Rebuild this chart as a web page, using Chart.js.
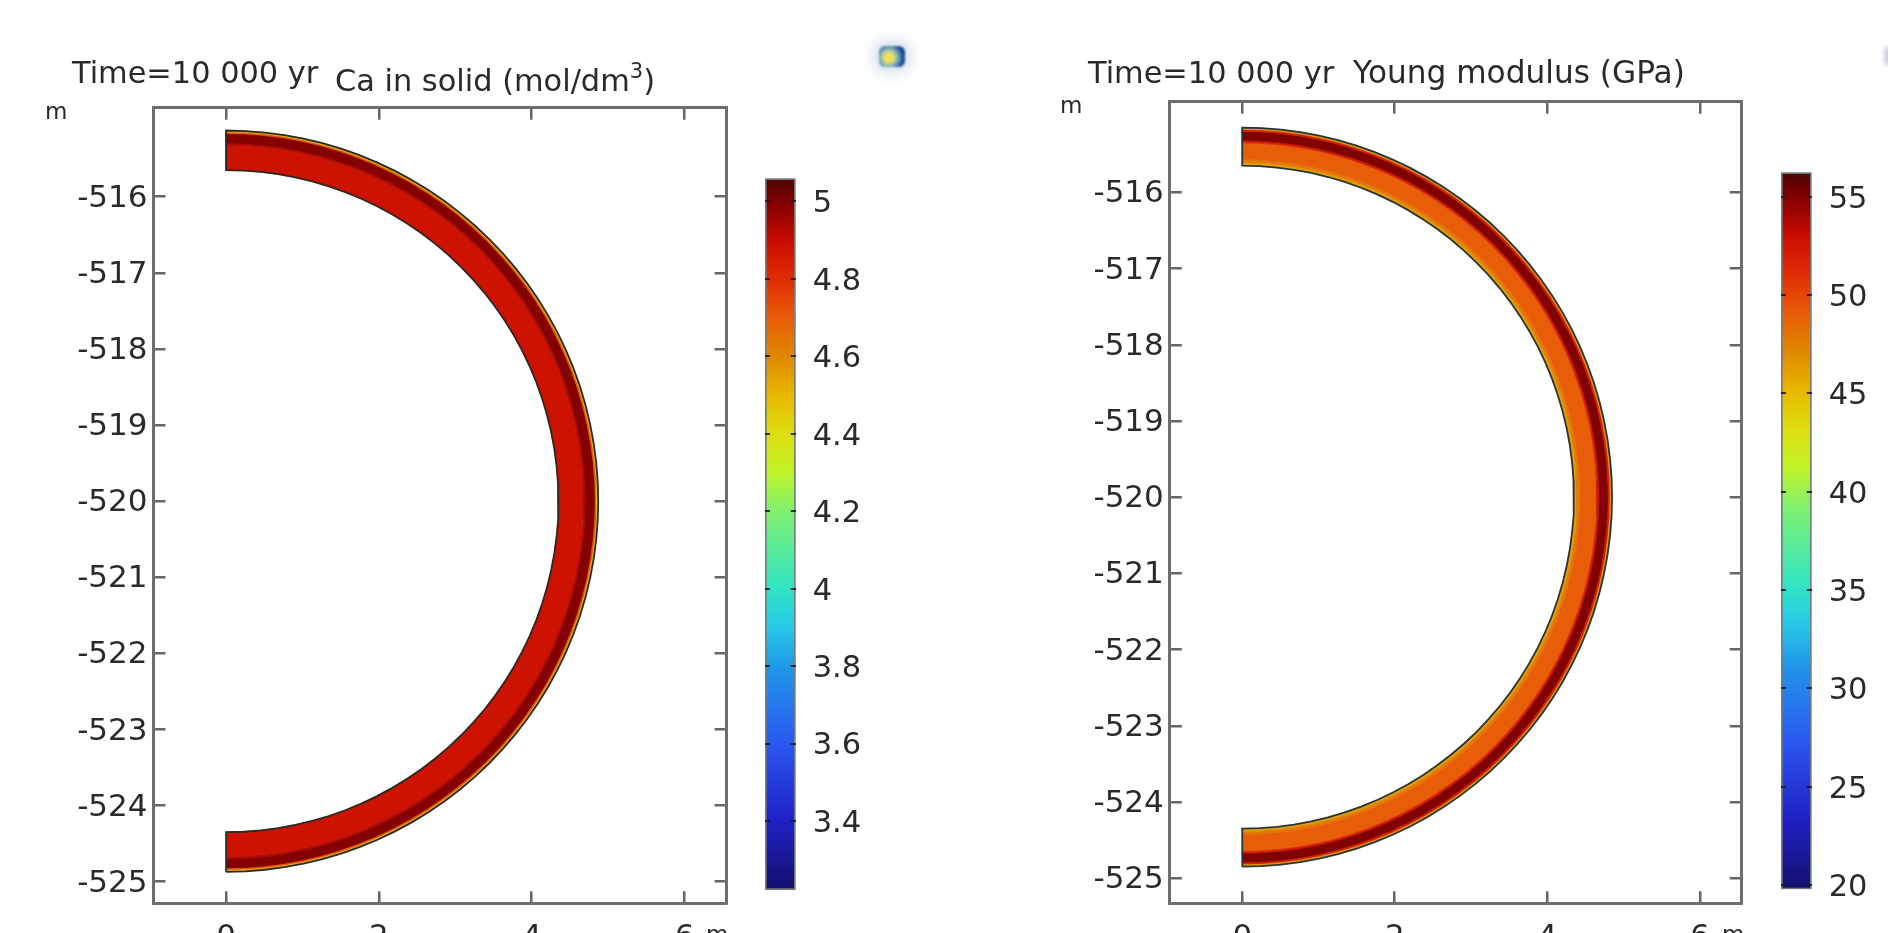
<!DOCTYPE html>
<html>
<head>
<meta charset="utf-8">
<script src="https://cdn.jsdelivr.net/npm/chart.js@4/dist/chart.umd.js"></script>
<style>
html,body{margin:0;padding:0;background:#fff;width:1888px;height:933px;overflow:hidden}
#page{position:relative;width:1888px;height:933px;overflow:hidden;filter:blur(0.7px)}
canvas{position:absolute;top:0}
.t{position:absolute;font-family:'DejaVu Sans',sans-serif;font-size:30.4px;color:#2a2a2a;white-space:nowrap;line-height:35px}
.u{position:absolute;font-family:'DejaVu Sans',sans-serif;font-size:23px;color:#2a2a2a;line-height:27px}
.t sup{font-size:21px;line-height:0;position:relative;top:-2px}
#icon1{position:absolute;left:879px;top:46px;width:26px;height:21px;border-radius:6px;background:radial-gradient(circle at 38% 55%,#f0e060 0 22%,#7fb0c0 45%,#1c4f96 70%,#17386f);box-shadow:0 0 12px 7px rgba(170,190,215,.4);filter:blur(1.2px)}
#icon2{position:absolute;left:1884px;top:46px;width:10px;height:20px;border-radius:5px;background:#c9d0da;filter:blur(2px)}
</style>
</head>
<body>
<div id="page">
<canvas id="plotCa" style="left:0" width="732" height="933"></canvas>
<canvas id="barCa" style="left:760px" width="130" height="933"></canvas>
<canvas id="plotE" style="left:1016px" width="731" height="933"></canvas>
<canvas id="barE" style="left:1776px" width="112" height="933"></canvas>
<div class="t" style="left:72px;top:55px">Time=10 000 yr</div>
<div class="t" style="left:335px;top:63px">Ca in solid (mol/dm<sup>3</sup>)</div>
<div class="t" style="left:1088px;top:55px">Time=10 000 yr</div>
<div class="t" style="left:1353px;top:55px;font-size:31.2px">Young modulus (GPa)</div>
<div class="u" style="left:45px;top:98px">m</div>
<div class="u" style="left:1060px;top:92px">m</div>
<div class="u" style="left:706px;top:921px">m</div>
<div class="u" style="left:1722px;top:921px">m</div>
<div id="icon1"></div>
<div id="icon2"></div>
</div>
<script>
// Axis ticks
const xTicks = [0, 2, 4, 6];
const yTicks = [-516, -517, -518, -519, -520, -521, -522, -523, -524, -525];
const caBarTicks = [5, 4.8, 4.6, 4.4, 4.2, 4, 3.8, 3.6, 3.4];
const youngBarTicks = [55, 50, 45, 40, 35, 30, 25, 20];

// Colour table: position along the range, colour
const tablePos = [0, .097, .206, .315, .369, .424, .532, .587, .641, .695, .75, .804, .859, .913, .968, 1];
const tableCol = ['#12106e','#2020c4','#2a58ee','#2098e8','#28c8e8','#30e4c4','#80f070','#c0f428','#dede10','#e8b800','#e08800','#e85c08','#e02c05','#c80c00','#7e0000','#4a0505'];

// Colour ranges of the two bars
const caRange = [3.222, 5.059];
const youngRange = [19.78, 56.24];

// Ring section: centre depth and sampled angles (degrees)
const ringCentre = -520;
const ringAngles = [-90,-87,-84,-81,-78,-75,-72,-69,-66,-63,-60,-57,-54,-51,-48,-45,-42,-39,-36,-33,-30,-27,-24,-21,-18,-15,-12,-9,-6,-3,0,3,6,9,12,15,18,21,24,27,30,33,36,39,42,45,48,51,54,57,60,63,66,69,72,75,78,81,84,87,90];

// Ca in solid: radial band edges (m, outer to inner) and value in each band
const caEdges = [4.87, 4.85, 4.83, 4.70, 4.67, 4.35];
const caValues = [4.5, 4.72, 4.99, 4.92, 4.88];

// Young modulus: radial band edges (m, outer to inner) and value in each band
const youngEdges = [4.85, 4.825, 4.80, 4.68, 4.65, 4.43, 4.39, 4.35];
const youngValues = [46.5, 52, 55, 52, 49, 47.8, 46.2];

function hex(c){return [1,3,5].map(i=>parseInt(c.slice(i,i+2),16));}
function colourAt(v, range){
  const f = Math.min(1, Math.max(0, (v-range[0])/(range[1]-range[0])));
  let i = 0;
  while (i < tablePos.length-2 && f > tablePos[i+1]) i++;
  const t = (f-tablePos[i])/(tablePos[i+1]-tablePos[i]);
  const a = hex(tableCol[i]), b = hex(tableCol[i+1]);
  return 'rgb('+a.map((k,j)=>Math.round(k+(b[j]-k)*t)).join(',')+')';
}
function arc(r, rev){
  const list = rev ? ringAngles.slice().reverse() : ringAngles;
  return list.map(d=>({x:r*Math.cos(d*Math.PI/180), y:ringCentre+r*Math.sin(d*Math.PI/180)}));
}
function ringDatasets(edges, values, range, edgeCol){
  const out = [{
    data: arc(edges[0]).concat(arc(edges[edges.length-1], true)).concat([arc(edges[0])[0]]),
    showLine:true, pointRadius:0, borderColor:edgeCol, borderWidth:1.8, fill:false, tension:0
  }];
  values.forEach((v,i)=>{
    const c = colourAt(v, range);
    out.push({
      data: arc(edges[i]).concat(arc(edges[i+1], true)),
      showLine:true, pointRadius:0, borderColor:c, backgroundColor:c, borderWidth:0.6, fill:'shape', tension:0
    });
  });
  return out;
}
function listTicks(list){
  return scale => { scale.ticks = list.map(value=>({value})); };
}
const font = {family:"'DejaVu Sans', sans-serif", size:31};
const barFont = {family:"'DejaVu Sans', sans-serif", size:30.5};
const frame = {display:true, color:'#6e6e6e', width:3};
function sideGrid(){
  return {color:'#666', lineWidth:2.5, drawOnChartArea:false, drawTicks:true, tickLength:-12};
}
function noPad(s){ s.paddingTop=0; s.paddingBottom=0; s.paddingLeft=0; s.paddingRight=0; }
function plot(id, datasets, xr, yr, geo){
  new Chart(document.getElementById(id), {
    type:'scatter',
    data:{datasets},
    options:{
      responsive:false, animation:false, devicePixelRatio:1,
      layout:{padding:{top:geo.top, right:geo.right, left:0, bottom:0}},
      plugins:{legend:{display:false}, tooltip:{enabled:false}},
      scales:{
        x:{type:'linear', position:'bottom', min:xr[0], max:xr[1], border:frame, grid:sideGrid(),
           afterBuildTicks:listTicks(xTicks),
           afterFit:s=>{s.height=geo.bottom; noPad(s);},
           ticks:{color:'#2a2a2a', font, padding:28, maxRotation:0, autoSkip:false, callback:v=>String(v)}},
        x2:{type:'linear', axis:'x', position:'top', min:xr[0], max:xr[1], border:frame, grid:sideGrid(),
           afterBuildTicks:listTicks(xTicks),
           afterFit:s=>{s.height=0; noPad(s);},
           ticks:{display:false}},
        y:{type:'linear', position:'left', min:yr[0], max:yr[1], border:frame, grid:sideGrid(),
           afterBuildTicks:listTicks(yTicks),
           afterFit:s=>{s.width=geo.left; noPad(s);},
           ticks:{color:'#2a2a2a', font, padding:18, autoSkip:false, labelOffset:2, callback:v=>String(v)}},
        y2:{type:'linear', axis:'y', position:'right', min:yr[0], max:yr[1], border:frame, grid:sideGrid(),
           afterBuildTicks:listTicks(yTicks),
           afterFit:s=>{s.width=0; noPad(s);},
           ticks:{display:false}}
      }
    }
  });
}
function colourBar(id, range, ticks, geo){
  new Chart(document.getElementById(id), {
    type:'bar',
    data:{labels:[''], datasets:[{
      data:[range],
      barPercentage:1, categoryPercentage:1,
      borderColor:'rgba(70,80,80,.75)', borderWidth:2, borderSkipped:false,
      backgroundColor:c=>{
        const a = c.chart.chartArea;
        if(!a) return '#888';
        const g = c.chart.ctx.createLinearGradient(0,a.bottom,0,a.top);
        tablePos.forEach((p,i)=>g.addColorStop(p,tableCol[i]));
        return g;
      }
    }]},
    options:{
      responsive:false, animation:false, devicePixelRatio:1,
      layout:{padding:{top:geo.top, left:5, right:0, bottom:geo.bottom}},
      plugins:{legend:{display:false}, tooltip:{enabled:false}},
      scales:{
        x:{display:false},
        y:{position:'right', min:range[0], max:range[1],
           border:{display:false, dash:[5,20.7,5,0]},
           grid:{color:'rgba(25,25,35,.85)', lineWidth:2, drawTicks:false, z:1},
           afterBuildTicks:listTicks(ticks),
           afterFit:s=>{s.width=geo.axis; noPad(s);},
           ticks:{color:'#2a2a2a', font:barFont, padding:17, autoSkip:false, labelOffset:3, callback:v=>String(v)}}
      }
    }
  });
}
plot('plotCa', ringDatasets(caEdges, caValues, caRange, '#2a2a22'), [-0.95, 6.55], [-525.284, -514.83],
     {left:153.5, right:5.4, top:107.7, bottom:29.7});
colourBar('barCa', caRange, caBarTicks, {top:178.3, bottom:43, axis:94.3});
plot('plotE', ringDatasets(youngEdges, youngValues, youngRange, '#26363a'), [-0.95, 6.55], [-525.33, -514.81],
     {left:153.8, right:5.3, top:101.7, bottom:29.7});
colourBar('barE', youngRange, youngBarTicks, {top:172.3, bottom:43.7, axis:76.3});
</script>
</body>
</html>
